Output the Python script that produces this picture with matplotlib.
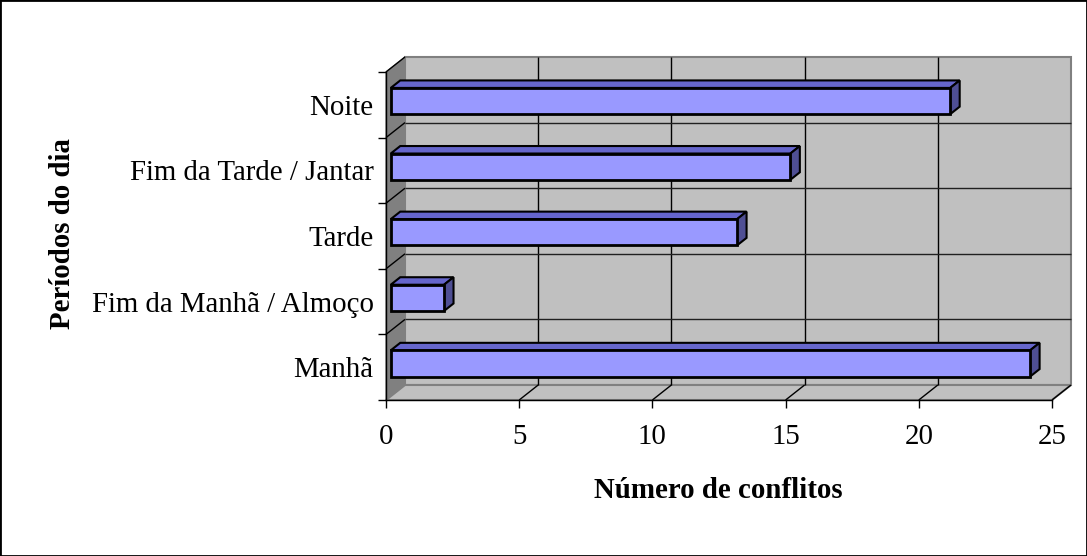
import matplotlib
matplotlib.use('Agg')
import matplotlib.pyplot as plt
from matplotlib.patches import Polygon, Rectangle
import numpy as np

categories = ['Manhã', 'Fim da Manhã / Almoço', 'Tarde', 'Fim da Tarde / Jantar', 'Noite']
values = [24, 2, 13, 15, 21]
x_ticks = [0, 5, 10, 15, 20, 25]
x_label = 'Número de conflitos'
y_label = 'Períodos do dia'

plt.rcParams['font.family'] = ['Liberation Serif', 'DejaVu Serif']
FS = 20.8

W, H = 1087, 556
fig = plt.figure(figsize=(W / 100, H / 100), dpi=100)
fig.patch.set_facecolor('white')
x0, x1, yb, yt = 386, 1052, 400, 72
ax = fig.add_axes([x0 / W, 1 - yb / H, (x1 - x0) / W, (yb - yt) / H])
ax.set_xlim(0, 25)
ax.set_ylim(0, len(categories))
ax.patch.set_visible(False)

DX, DY = 19.0, 15.0  # depth offset in pixels


def P(x, y, d):
    disp = ax.transData.transform((x, y)) + d * np.array([DX, DY])
    return ax.transData.inverted().transform(disp)


def poly(pts, **kw):
    p = Polygon(pts, closed=True, clip_on=False, **kw)
    ax.add_patch(p)


def line(a, b, **kw):
    ax.plot([a[0], b[0]], [a[1], b[1]], clip_on=False, solid_capstyle='butt', **kw)


n = len(categories)
xm = x_ticks[-1]
# back wall
poly([P(0, 0, 1), P(xm, 0, 1), P(xm, n, 1), P(0, n, 1)], fc='#C0C0C0', ec='#808080', lw=1.5, zorder=1)
# side wall
poly([P(0, 0, 0), P(0, n, 0), P(0, n, 1), P(0, 0, 1)], fc='#808080', ec='#808080', lw=1, zorder=1.1)
# floor
poly([P(0, 0, 0), P(xm, 0, 0), P(xm, 0, 1), P(0, 0, 1)], fc='#C0C0C0', ec='#808080', lw=1.5, zorder=1.1)

# gridlines
for xv in x_ticks[1:-1]:
    line(P(xv, 0, 1), P(xv, n, 1), color='black', lw=1, zorder=1.5)
for xv in x_ticks[1:]:
    line(P(xv, 0, 0), P(xv, 0, 1), color='black', lw=1, zorder=1.5)
for k in range(1, n):
    line(P(0, k, 1), P(xm, k, 1), color='#202020', lw=1, zorder=1.5)
for k in range(1, n + 1):
    line(P(0, k, 0), P(0, k, 1), color='black', lw=1, zorder=1.5)

# bars
hh = 0.2
d0, d1 = 0.25, 0.75
for i, v in enumerate(values):
    yc = i + 0.5
    lo, hi = yc - hh, yc + hh
    poly([P(0, hi, d0), P(v, hi, d0), P(v, hi, d1), P(0, hi, d1)], fc='#6666CC', ec='black', lw=1.5, zorder=3)
    poly([P(v, lo, d0), P(v, hi, d0), P(v, hi, d1), P(v, lo, d1)], fc='#4F4F94', ec='black', lw=1.5, zorder=3)
    poly([P(0, lo, d0), P(v, lo, d0), P(v, hi, d0), P(0, hi, d0)], fc='#9999FF', ec='black', lw=2, zorder=4)

# axes / ticks
for s in ['top', 'right']:
    ax.spines[s].set_visible(False)
for s in ['left', 'bottom']:
    ax.spines[s].set_color('black')
    ax.spines[s].set_linewidth(1)
    ax.spines[s].set_zorder(5)
ax.set_xticks(x_ticks)
ax.set_xticklabels([str(t) for t in x_ticks], fontsize=FS)
ax.tick_params(axis='x', direction='out', length=6, width=1, pad=11)
ax.set_yticks(range(n + 1))
ax.set_yticklabels([''] * (n + 1))
ax.tick_params(axis='y', which='major', direction='out', length=6, width=1)
ax.set_yticks([i + 0.5 for i in range(n)], minor=True)
ax.set_yticklabels(categories, minor=True, fontsize=FS)
ax.tick_params(axis='y', which='minor', length=0, pad=9)

fig.text(718 / W, 1 - 490 / H, x_label, ha='center', va='center', fontsize=FS, fontweight='bold')
fig.text(62 / W, 1 - 234 / H, y_label, ha='center', va='center', rotation=90, fontsize=FS, fontweight='bold')

fig.patches.append(Rectangle((0, 0), 1, 1, transform=fig.transFigure, fill=False, ec='black', lw=2))

fig.savefig('out.png', dpi=100)
